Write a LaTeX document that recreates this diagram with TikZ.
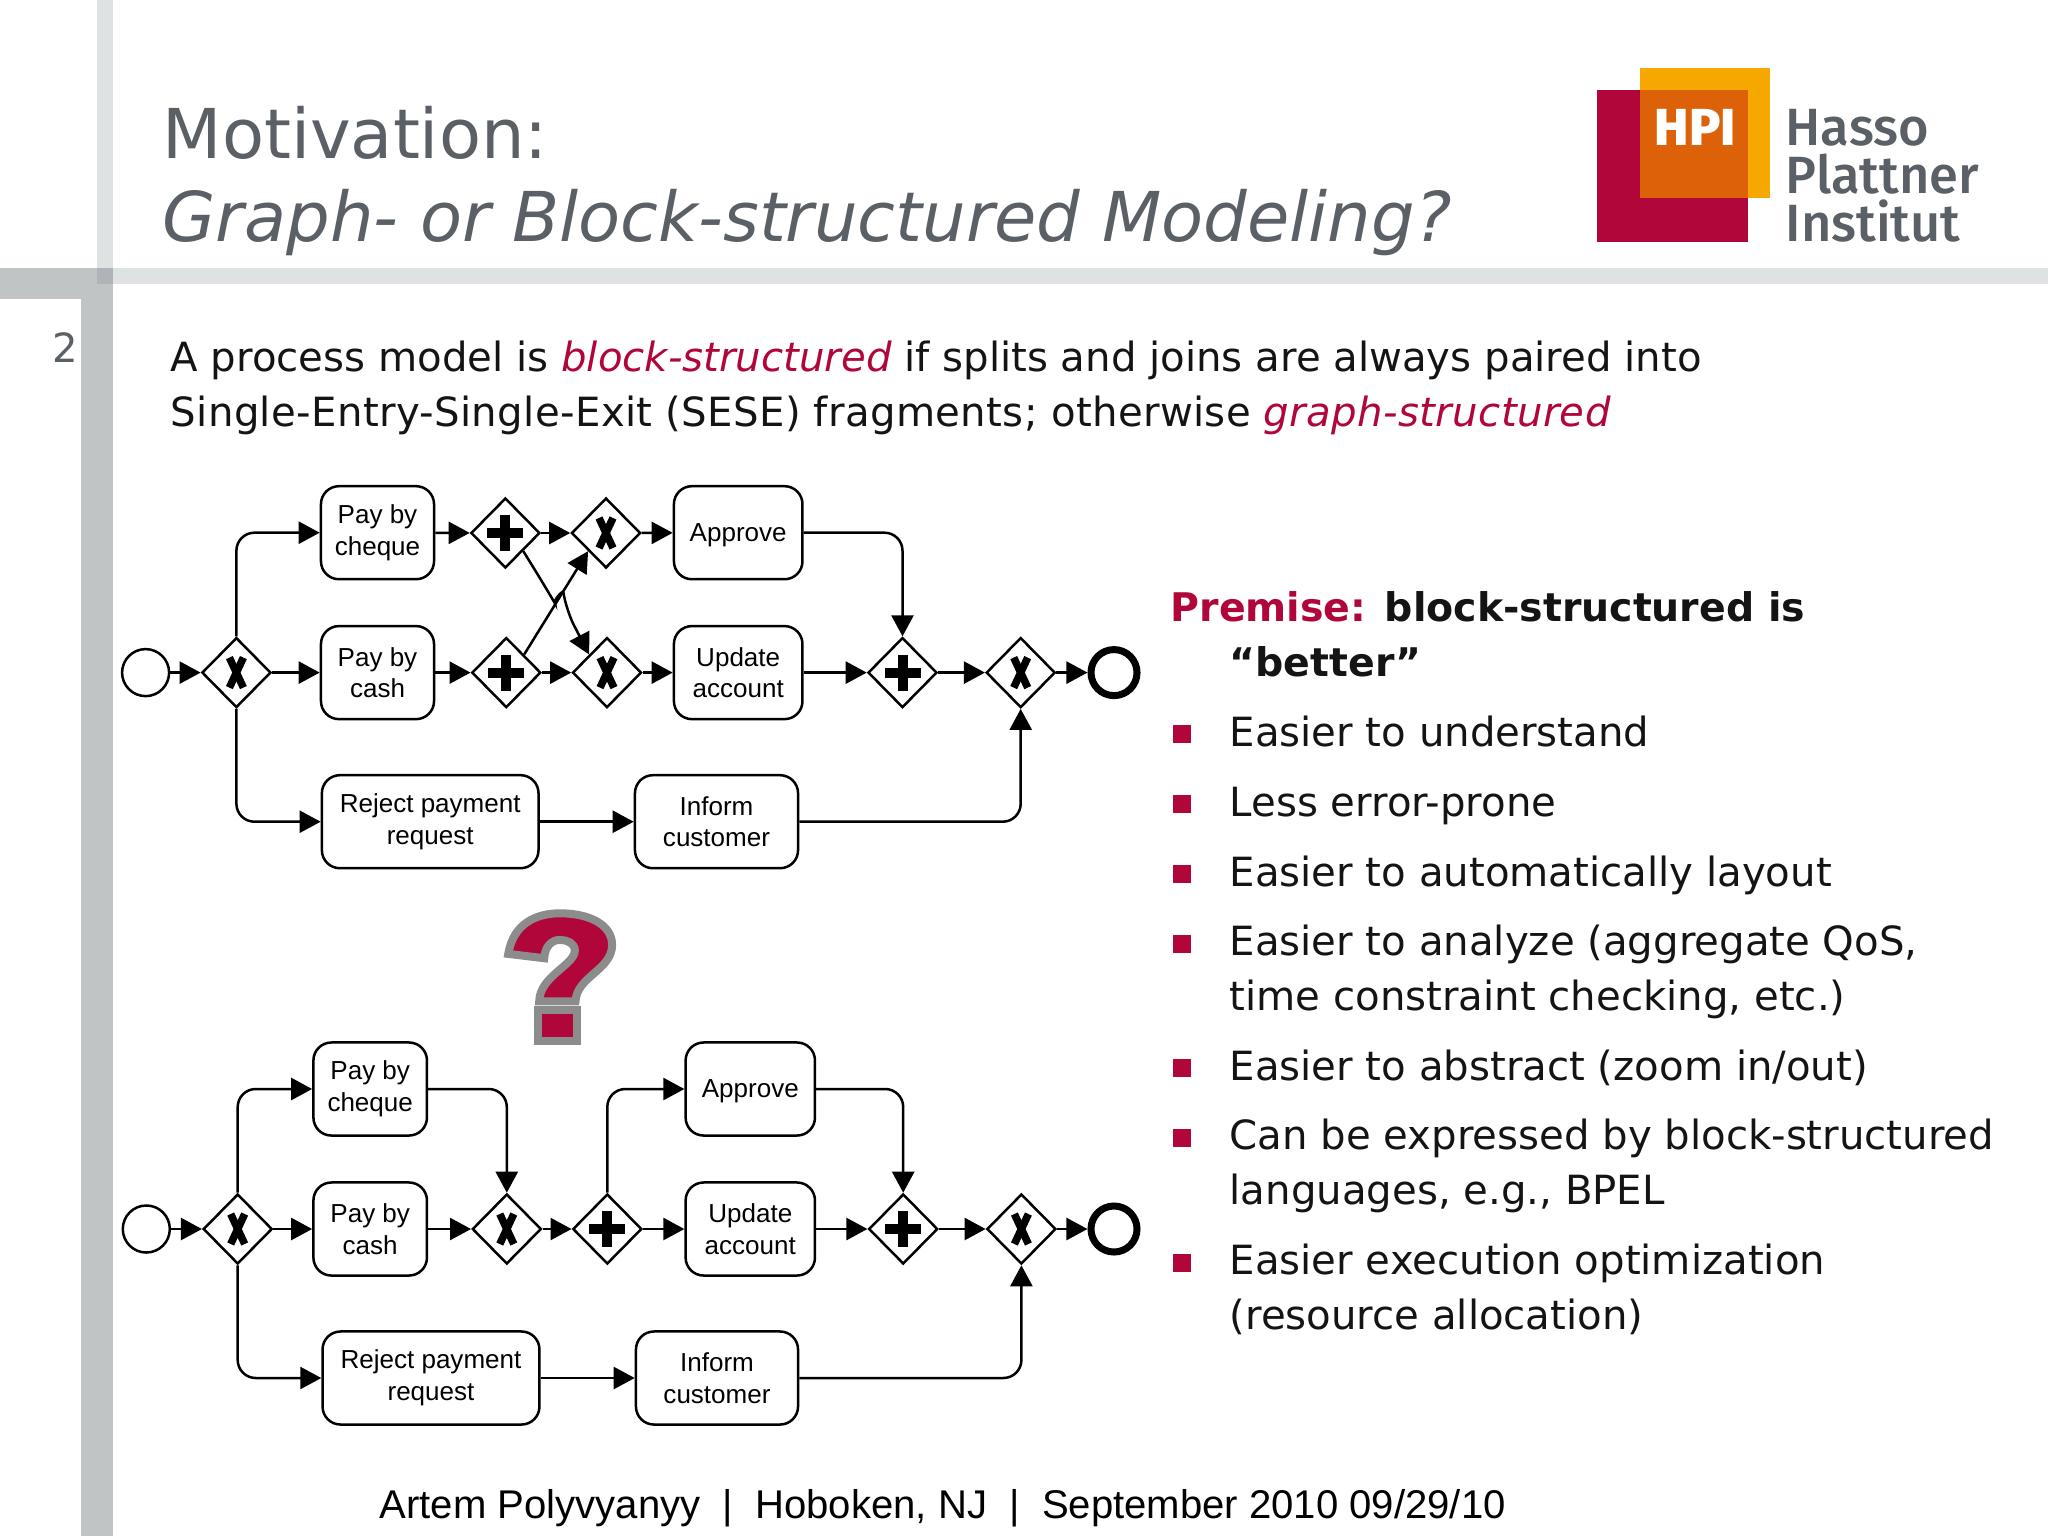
\documentclass[tikz,border=0pt]{standalone}
\usepackage{fontspec}
\setmainfont{DejaVu Sans}
\newfontfamily\labelfont{Liberation Sans}
\newfontfamily\logofont{Fira Sans Medium}
\usetikzlibrary{arrows.meta,shapes.geometric}
\definecolor{hpired}{HTML}{B1063A}
\definecolor{hpiyellow}{HTML}{F6A800}
\definecolor{hpiorange}{HTML}{DD6108}
\definecolor{titlegray}{HTML}{5A6065}
\definecolor{barlight}{HTML}{DFE2E3}
\definecolor{bardark}{HTML}{C0C4C5}
\definecolor{barmix}{HTML}{B0B4B8}
\tikzset{
  bodytext/.style={anchor=base west, inner sep=0pt, text=black!92, font=\fontsize{11.44}{14}\selectfont},
  titletext/.style={anchor=base west, inner sep=0pt, text=titlegray, font=\fontsize{19.55}{22}\selectfont},
  logotext/.style={anchor=base west, inner sep=0pt, text=titlegray, font=\logofont\fontsize{14.9}{18}\selectfont},
  task/.style={draw, rounded corners=0.18cm, line width=0.025cm, fill=white, align=center, inner sep=0pt,
    minimum height=0.93cm, font=\labelfont\fontsize{7.4}{9.0}\selectfont},
  gate/.style={diamond, draw, line width=0.025cm, fill=white, inner sep=0pt, minimum width=0.69cm, minimum height=0.70cm},
  xorgate/.style={gate, path picture={
    \draw[line width=0.075cm] (path picture bounding box.center) ++(-7,-15) -- ++(14,30);
    \draw[line width=0.075cm] (path picture bounding box.center) ++(7,-15) -- ++(-14,30);}},
  andgate/.style={gate, path picture={
    \draw[line width=0.1cm] (path picture bounding box.center) ++(-18,0) -- ++(36,0);
    \draw[line width=0.1cm] (path picture bounding box.center) ++(0,-18) -- ++(0,36);}},
  startev/.style={circle, draw, line width=0.025cm, inner sep=0pt, minimum size=0.47cm},
  endev/.style={circle, draw, line width=0.07cm, inner sep=0pt, minimum size=0.46cm},
  flow/.style={-{Triangle[length=0.21cm,width=0.22cm]}, line width=0.025cm, rounded corners=0.18cm},
}
\begin{document}
\begin{tikzpicture}[x=0.01cm,y=-0.01cm]
    \useasboundingbox (0,0) rectangle (2048,1536);

    % Bars
    \fill[barlight] (97,0) rectangle (112.7,283.5);
    \fill[barlight] (97,268) rectangle (2048,283.5);
    \fill[bardark] (0,268) rectangle (112.7,299);
    \fill[bardark] (81,299) rectangle (112.7,1536);
    \fill[barmix] (97,268) rectangle (112.7,283.5);
    \node[bodytext, text=titlegray] (pagenum) at (52,362) {2};

    % Title
    \node[titletext] (titlea) at (162,158) {Motivation:};
    \node[titletext] (titleb) at (162,241.6) {\itshape Graph- or Block-structured Modeling?};

    % Logo
    \fill[hpired] (1596.7,90) rectangle (1748,241.7);
    \fill[hpiyellow] (1640,68) rectangle (1770,198);
    \fill[hpiorange] (1640,90) rectangle (1748,198);
    \node[logotext, text=white, font=\logofont\bfseries\fontsize{14.8}{18}\selectfont] (logohpi) at (1654,145) {HPI};
    \node[logotext] (logoa) at (1785,145) {Hasso};
    \node[logotext] (logob) at (1785,193) {Plattner};
    \node[logotext] (logoc) at (1785,241.7) {Institut};

    % Intro
    \node[bodytext] (introa) at (170,371) {A process model is {\itshape\color{hpired} block-structured} if splits and joins are always paired into};
    \node[bodytext] (introb) at (170,426) {\addfontfeature{LetterSpace=0.9}Single-Entry-Single-Exit (SESE) fragments; otherwise {\itshape\color{hpired} graph-structured}};

    % Bullets
    \node[bodytext, font=\fontsize{11.22}{14}\selectfont] (premisea) at (1170,621) {\bfseries{\color{hpired} Premise:} block-structured is};
    \node[bodytext, font=\fontsize{11.22}{14}\selectfont] (premiseb) at (1229,676) {\bfseries ``better''};
    \foreach \y in {734,804,874,943.5,1068,1138,1263} {
        \fill[hpired] (1173,\y-9) rectangle (1191,\y+9);
    }
    \node[bodytext] (itema) at (1229,746) {Easier to understand};
    \node[bodytext] (itemb) at (1229,816) {Less error-prone};
    \node[bodytext] (itemc) at (1229,886) {Easier to automatically layout};
    \node[bodytext] (itemd) at (1229,955) {Easier to analyze (aggregate QoS,};
    \node[bodytext] (iteme) at (1229,1010) {time constraint checking, etc.)};
    \node[bodytext] (itemf) at (1229,1080) {Easier to abstract (zoom in/out)};
    \node[bodytext] (itemg) at (1229,1149) {Can be expressed by block-structured};
    \node[bodytext] (itemh) at (1229,1204) {languages, e.g., BPEL};
    \node[bodytext] (itemi) at (1229,1274) {Easier execution optimization};
    \node[bodytext] (itemj) at (1229,1329) {(resource allocation)};

    % Question mark
    \begin{scope}[shift={(480,880)},x=0.00333cm,y=-0.00333cm,line width=0.08cm,draw=black!45,fill=hpired,miter limit=2]
        \filldraw (85,222) .. controls (100,130) and (170,100) .. (240,100)
            .. controls (330,100) and (397,135) .. (397,195)
            .. controls (397,270) and (290,290) .. (287,365)
            -- (178,365) .. controls (178,290) and (285,255) .. (285,212)
            .. controls (285,190) and (262,180) .. (240,180)
            .. controls (215,180) and (195,200) .. (193,235) -- cycle;
        \filldraw (174,392) rectangle (290,485);
    \end{scope}

    % Top model
    \node[startev] (starta) at (145.6,672.6) {};
    \node[xorgate] (splita) at (236.4,672.6) {};
    \node[task, minimum width=1.13cm] (chequea) at (377.5,532.7) {Pay by\\cheque};
    \node[task, minimum width=1.13cm] (casha) at (377.5,672.6) {Pay by\\cash};
    \node[task, minimum width=2.165cm] (rejecta) at (430.2,821.7) {Reject payment\\request};
    \node[task, minimum width=1.63cm] (informa) at (716.5,821.7) {Inform\\customer};
    \node[andgate] (andchequea) at (505.4,533) {};
    \node[andgate] (andcasha) at (506.3,672.6) {};
    \node[xorgate] (xorapprovea) at (606,533) {};
    \node[xorgate] (xorupdatea) at (607,672.6) {};
    \node[task, minimum width=1.285cm, text depth=0pt] (approvea) at (738.2,532.7) {Approve};
    \node[task, minimum width=1.285cm] (updatea) at (738.2,672.6) {Update\\account};
    \node[andgate] (joinanda) at (902.5,672.6) {};
    \node[xorgate] (joinxora) at (1020.7,672.6) {};
    \node[endev] (enda) at (1114,672.6) {};
    \coordinate (kinka) at (546,588);
    \coordinate (kinkb) at (566,610);

    \draw[flow] (starta) -- (splita);
    \draw[flow] (splita.north) |- (chequea.west);
    \draw[flow] (splita) -- (casha);
    \draw[flow] (splita.south) |- (rejecta.west);
    \draw[flow] (chequea) -- (andchequea);
    \draw[flow] (casha) -- (andcasha);
    \draw[flow] (andchequea) -- (xorapprovea);
    \draw[flow] (andcasha) -- (xorupdatea);
    \draw[flow] (andcasha.north east) -- (xorapprovea.south west);
    \draw[flow] (andchequea.south east) -- (kinka) .. controls (553,600) and (563,590) .. (kinkb) -- (xorupdatea.north west);
    \draw[flow] (xorapprovea) -- (approvea);
    \draw[flow] (xorupdatea) -- (updatea);
    \draw[flow] (approvea.east) -| (joinanda.north);
    \draw[flow] (updatea) -- (joinanda);
    \draw[flow] (joinanda) -- (joinxora);
    \draw[flow] (joinxora) -- (enda);
    \draw[flow] (rejecta) -- (informa);
    \draw[flow] (informa.east) -| (joinxora.south);

    % Bottom model
    \node[startev] (startb) at (146.3,1229) {};
    \node[xorgate] (splitb) at (237.7,1229) {};
    \node[task, minimum width=1.135cm] (chequeb) at (370.2,1089) {Pay by\\cheque};
    \node[task, minimum width=1.135cm] (cashb) at (370.2,1229) {Pay by\\cash};
    \node[task, minimum width=2.168cm] (rejectb) at (431,1378) {Reject payment\\request};
    \node[task, minimum width=1.62cm] (informb) at (717,1378) {Inform\\customer};
    \node[xorgate] (joinxorb) at (506.8,1229) {};
    \node[andgate] (splitandb) at (607.3,1229) {};
    \node[task, minimum width=1.293cm, text depth=0pt] (approveb) at (750.3,1089) {Approve};
    \node[task, minimum width=1.293cm] (updateb) at (750.3,1229) {Update\\account};
    \node[andgate] (joinandb) at (903.2,1229) {};
    \node[xorgate] (lastxorb) at (1021.4,1229) {};
    \node[endev] (endb) at (1114,1229) {};

    \draw[flow] (startb) -- (splitb);
    \draw[flow] (splitb.north) |- (chequeb.west);
    \draw[flow] (splitb) -- (cashb);
    \draw[flow] (splitb.south) |- (rejectb.west);
    \draw[flow] (chequeb.east) -| (joinxorb.north);
    \draw[flow] (cashb) -- (joinxorb);
    \draw[flow] (joinxorb) -- (splitandb);
    \draw[flow] (splitandb.north) |- (approveb.west);
    \draw[flow] (splitandb) -- (updateb);
    \draw[flow] (approveb.east) -| (joinandb.north);
    \draw[flow] (updateb) -- (joinandb);
    \draw[flow] (joinandb) -- (lastxorb);
    \draw[flow] (lastxorb) -- (endb);
    \draw[flow] (rejectb) -- (informb);
    \draw[flow] (informb.east) -| (lastxorb.south);

    % Footer
    \node[anchor=base west, inner sep=0pt, font=\labelfont\fontsize{11.4}{14}\selectfont] (footer) at (379,1518)
        {Artem Polyvyanyy~~|~~Hoboken, NJ~~|~~September 2010 09/29/10};
\end{tikzpicture}
\end{document}
